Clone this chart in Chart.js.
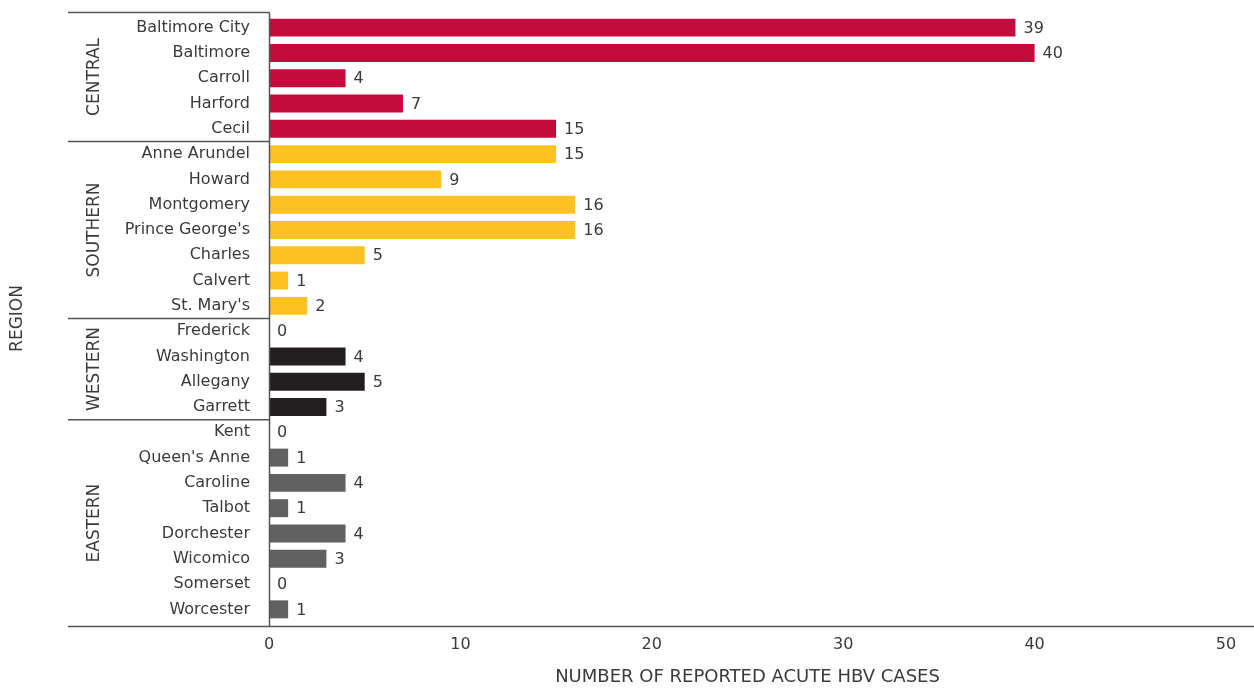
<!DOCTYPE html>
<html>
<head>
<meta charset="utf-8">
<script src="https://cdn.jsdelivr.net/npm/chart.js@4.4.1/dist/chart.umd.min.js"></script>
<style>
  html, body { margin: 0; padding: 0; background: #fff; }
  #wrap { width: 1254px; height: 688px; }
</style>
</head>
<body>
<div id="wrap"><canvas id="hbvChart" width="1254" height="688"></canvas></div>
<script>
'use strict';

const counties = ['Baltimore City', 'Baltimore', 'Carroll', 'Harford', 'Cecil',
    'Anne Arundel', 'Howard', 'Montgomery', "Prince George's", 'Charles', 'Calvert', "St. Mary's",
    'Frederick', 'Washington', 'Allegany', 'Garrett',
    'Kent', "Queen's Anne", 'Caroline', 'Talbot', 'Dorchester', 'Wicomico', 'Somerset', 'Worcester'];
const cases = [39, 40, 4, 7, 15,
    15, 9, 16, 16, 5, 1, 2,
    0, 4, 5, 3,
    0, 1, 4, 1, 4, 3, 0, 1];
const regionNames = ['CENTRAL', 'SOUTHERN', 'WESTERN', 'EASTERN'];
const regionSizes = [5, 7, 4, 8];
const regionColors = ['#C40B3B', '#FDC221', '#231F20', '#616161'];
const xTicks = [0, 10, 20, 30, 40, 50];

const FONT = "'DejaVu Sans', sans-serif";
const TEXT = '#3a3a3a';
const LINE = '#555';

// colour of each bar from its region
const barColors = [];
regionSizes.forEach((n, i) => {
    for (let k = 0; k < n; k++) barColors.push(regionColors[i]);
});

// lines, group labels and value labels
const decorPlugin = {
    id: 'decor',
    afterDatasetsDraw(chart) {
        const ctx = chart.ctx;
        const area = chart.chartArea;
        const y = chart.scales.y;
        const meta = chart.getDatasetMeta(0);
        const leftX = 68;
        const half = (y.getPixelForValue(1) - y.getPixelForValue(0)) / 2;

        ctx.save();
        // value labels
        ctx.fillStyle = TEXT;
        ctx.font = '16px ' + FONT;
        ctx.textAlign = 'left';
        ctx.textBaseline = 'middle';
        meta.data.forEach((bar, i) => {
            ctx.fillText(String(cases[i]), bar.x + 8, bar.y + 1);
        });

        ctx.strokeStyle = LINE;
        ctx.lineWidth = 1.5;
        const topY = area.top - 2.5;
        const botY = area.bottom + 4.5;

        ctx.beginPath();
        ctx.moveTo(leftX, topY);
        ctx.lineTo(area.left + 0.5, topY);
        ctx.moveTo(area.left + 0.5, topY);
        ctx.lineTo(area.left + 0.5, botY);
        ctx.moveTo(leftX, botY);
        ctx.lineTo(chart.width, botY);
        ctx.stroke();

        // region separators and rotated region names
        let start = 0;
        regionSizes.forEach((n, i) => {
            const end = start + n - 1;
            const y0 = i === 0 ? topY : y.getPixelForValue(start) - half;
            const y1 = i === regionSizes.length - 1 ? botY : y.getPixelForValue(end) + half;
            if (i > 0) {
                ctx.beginPath();
                ctx.moveTo(leftX, y0);
                ctx.lineTo(area.left + 0.5, y0);
                ctx.stroke();
            }
            ctx.save();
            ctx.translate(95, (y0 + y1) / 2);
            ctx.rotate(-Math.PI / 2);
            ctx.fillStyle = TEXT;
            ctx.font = '17px ' + FONT;
            ctx.textAlign = 'center';
            ctx.textBaseline = 'middle';
            ctx.fillText(regionNames[i], 0, 0);
            ctx.restore();
            start += n;
        });
        ctx.restore();
    }
};

const chartCtx = document.getElementById('hbvChart').getContext('2d');
new Chart(chartCtx, {
    type: 'bar',
    data: {
        labels: counties,
        datasets: [{
            data: cases,
            backgroundColor: barColors,
            borderWidth: 0,
            categoryPercentage: 1,
            barPercentage: 0.71
        }]
    },
    options: {
        indexAxis: 'y',
        responsive: false,
        animation: false,
        layout: {
            padding: { top: 15, right: 28, left: 0, bottom: 0 }
        },
        plugins: {
            legend: { display: false },
            tooltip: { enabled: false }
        },
        scales: {
            x: {
                min: 0,
                max: 50,
                afterBuildTicks(scale) {
                    scale.ticks = xTicks.map(v => ({ value: v }));
                },
                afterFit(scale) {
                    scale.height = 66;
                },
                grid: { display: false, drawTicks: false },
                border: { display: false },
                ticks: {
                    color: TEXT,
                    padding: 13,
                    font: { family: FONT, size: 16 }
                },
                title: {
                    display: true,
                    text: 'NUMBER OF REPORTED ACUTE HBV CASES',
                    color: TEXT,
                    padding: { top: 0, bottom: 0 },
                    font: { family: FONT, size: 18 }
                }
            },
            y: {
                afterFit(scale) {
                    scale.width = 269;
                    scale.paddingTop = 0;
                    scale.paddingBottom = 0;
                },
                grid: { display: false, drawTicks: false },
                border: { display: false },
                ticks: {
                    color: TEXT,
                    padding: 19,
                    autoSkip: false,
                    font: { family: FONT, size: 16 }
                },
                title: {
                    display: true,
                    text: 'REGION',
                    color: TEXT,
                    padding: { top: 7, bottom: 0 },
                    font: { family: FONT, size: 17 }
                }
            }
        }
    },
    plugins: [decorPlugin]
});
</script>
</body>
</html>
